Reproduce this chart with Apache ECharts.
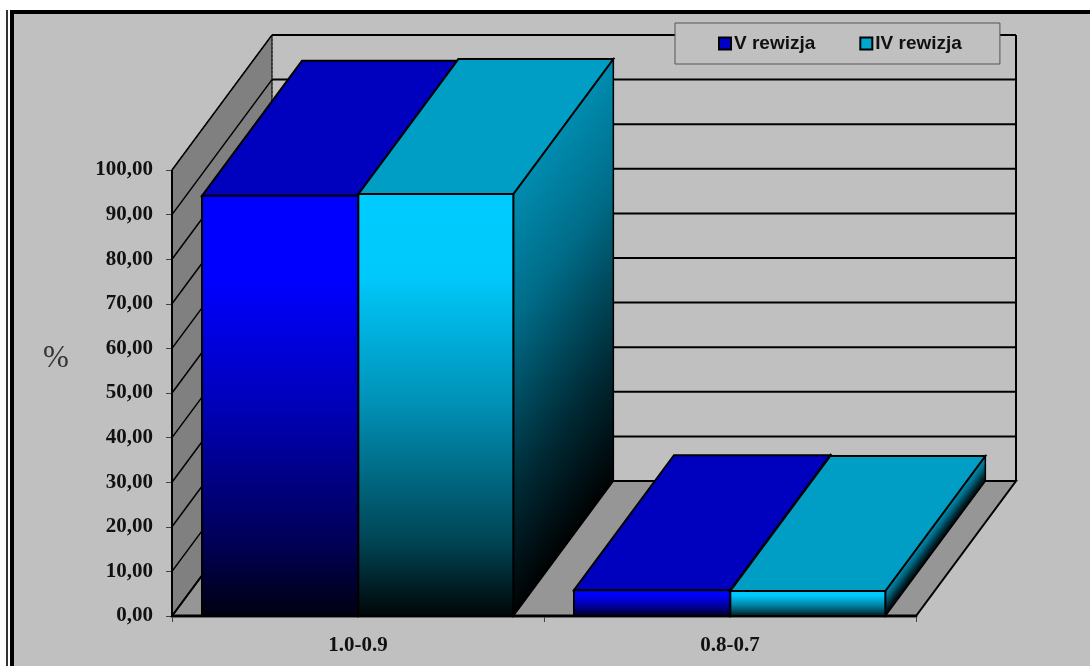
<!DOCTYPE html>
<html>
<head>
<meta charset="utf-8">
<style>html,body{margin:0;padding:0;background:#fff}#c{width:1090px;height:666px}</style>
<script src="https://cdn.jsdelivr.net/npm/echarts@6/dist/echarts.min.js"></script>
</head>
<body>
<div id="c"></div>
<script>
var categories = ['1.0-0.9', '0.8-0.7'];
var seriesVName = 'V rewizja';
var seriesIVName = 'IV rewizja';
var valuesV = [94.2, 5.8];
var valuesIV = [94.6, 5.6];
var yTicks = [0,10,20,30,40,50,60,70,80,90,100];
var unitLabel = '%';

var DX = 100, DY = 135;
var G = echarts.graphic;
function lg(x, y, x2, y2, stops){
  return new G.LinearGradient(x,y,x2,y2,stops.map(function(s){return {offset:s[0],color:s[1]};}));
}
var palette = {
  V: {
    front: [[0,'#0000ff'],[0.2,'#0000ff'],[0.5,'#0000b8'],[0.82,'#000058'],[1,'#000010']],
    top: '#0000bf',
    side: [[0,'#0000a0'],[1,'#000010']],
    legend: '#0000c8'
  },
  IV: {
    front: [[0,'#00ccff'],[0.2,'#00c8fa'],[0.5,'#0090b5'],[0.82,'#004555'],[1,'#000506']],
    top: '#009dc4',
    side: [[0,'#008cb0'],[0.3,'#006c88'],[0.7,'#002a35'],[1,'#000000']],
    legend: '#00a8d0'
  }
};
function barRenderer(offsetFrac, widthFrac, pal){
  return function(params, api){
    var cat = api.value(0), val = api.value(1);
    var band = api.size([1,0])[0];
    var c0 = api.coord([cat, 0]);
    var c1 = api.coord([cat, val]);
    var x0 = c0[0] - band/2 + offsetFrac*band;
    var x1 = x0 + widthFrac*band;
    var yT = c1[1], yB = c0[1], h = yB - yT, H = h + DY;
    var front = [[x0,yT],[x1,yT],[x1,yB],[x0,yB]];
    var top = [[x0,yT],[x0+DX,yT-DY],[x1+DX,yT-DY],[x1,yT]];
    var side = [[x1,yT],[x1+DX,yT-DY],[x1+DX,yB-DY],[x1,yB]];
    var sideFill = lg(0, DY/H, 0.48*h/DX, (DY+0.36*h)/H, pal.side);
    var sw = {stroke:'#000',lineWidth:2,lineJoin:'miter'};
    return {type:'group',children:[
      {type:'polygon',shape:{points:side},style:Object.assign({fill:sideFill},sw,{lineWidth:1.5})},
      {type:'polygon',shape:{points:top},style:Object.assign({fill:pal.top},sw)},
      {type:'polygon',shape:{points:front},style:Object.assign({fill:lg(0,0,0,1,pal.front)},sw)}
    ]};
  };
}
function wallsRenderer(params, api){
  var a = api.coord([0,0]), band = api.size([1,0])[0];
  var xL = a[0]-band/2, yB = a[1];
  var xR = xL + band*categories.length;
  var yT = api.coord([0,yTicks[yTicks.length-1]])[1];
  return {type:'group',children:[
    {type:'polygon',shape:{points:[[xL,yT],[xL+DX,yT-DY],[xL+DX,yB-DY],[xL,yB]]},style:{fill:'#808080',stroke:'#000',lineWidth:1}},
    {type:'polygon',shape:{points:[[xL,yB],[xL+DX,yB-DY],[xR+DX,yB-DY],[xR,yB]]},style:{fill:'#969696',stroke:'#000',lineWidth:2}},
    {type:'line',shape:{x1:xL+DX,y1:yT-DY,x2:xL+DX,y2:yB-DY},style:{stroke:'#222',lineWidth:1,lineDash:[2,2]}},
    {type:'line',shape:{x1:xR+DX,y1:yT-DY,x2:xR+DX,y2:yB-DY},style:{stroke:'#000',lineWidth:2}},
    {type:'line',shape:{x1:xL,y1:yT,x2:xL,y2:yB},style:{stroke:'#000',lineWidth:2}},
    {type:'line',shape:{x1:xL,y1:yB-0.5,x2:xR,y2:yB-0.5},style:{stroke:'#000',lineWidth:2}}
  ]};
}
function gridRenderer(params, api){
  var v = api.value(0);
  var a = api.coord([0,v]), band = api.size([1,0])[0];
  var xL = a[0]-band/2, y = a[1];
  var xR = xL + band*categories.length;
  return {type:'group',children:[
    {type:'line',shape:{x1:xL,y1:y,x2:xL+DX,y2:y-DY},style:{stroke:'#000',lineWidth:1.5}},
    {type:'line',shape:{x1:xL+DX,y1:y-DY,x2:xR+DX,y2:y-DY},style:{stroke:'#000',lineWidth:2}}
  ]};
}
var labelFont = {fontFamily:'"Liberation Serif"',fontWeight:'bold',fontSize:21,color:'#111'};
var option = {
  animation:false,
  backgroundColor:'#fff',
  graphic:{elements:[
    {type:'rect',z:-100,silent:true,shape:{x:12,y:12,width:1078,height:654},style:{fill:'#c0c0c0',stroke:null}},
    {type:'rect',z:-99,silent:true,shape:{x:10,y:10,width:1080,height:4},style:{fill:'#000'}},
    {type:'rect',z:-99,silent:true,shape:{x:10,y:10,width:4,height:656},style:{fill:'#000'}},
    {type:'rect',z:-99,silent:true,shape:{x:6,y:10,width:2,height:656},style:{fill:'#333'}},
    {type:'text',z:5,silent:true,style:{x:56,y:359,text:unitLabel,align:'center',verticalAlign:'middle',fontFamily:'"Liberation Serif"',fontSize:31,fill:'#333'}}
  ]},
  grid:{left:172,right:174,top:170,bottom:50},
  legend:{
    left:675,top:23,orient:'horizontal',
    padding:[11,38,11,43],
    itemGap:44,itemWidth:12,itemHeight:12,
    backgroundColor:'#c0c0c0',borderColor:'#555',borderWidth:1,
    textStyle:{fontFamily:'"Liberation Sans"',fontWeight:'bold',fontSize:19,color:'#111',padding:[3,0,0,-2]},
    data:[
      {name:seriesVName,icon:'rect',itemStyle:{color:palette.V.legend,borderColor:'#000',borderWidth:2}},
      {name:seriesIVName,icon:'rect',itemStyle:{color:palette.IV.legend,borderColor:'#000',borderWidth:2}}
    ]
  },
  xAxis:{
    type:'category',data:categories,boundaryGap:true,
    axisLine:{show:true,lineStyle:{color:'#6a6a6a',width:3}},
    axisTick:{show:true,alignWithLabel:false,length:6,lineStyle:{color:'#444',width:1}},
    axisLabel:Object.assign({margin:19},labelFont)
  },
  yAxis:{
    type:'value',min:0,max:100,interval:10,
    axisLine:{show:false},
    axisTick:{show:true,length:6,lineStyle:{color:'#444',width:1}},
    axisLabel:Object.assign({margin:19,padding:[4,0,0,0],formatter:function(v){return v.toFixed(2).replace('.',',');}},labelFont),
    splitLine:{show:false}
  },
  series:[
    {type:'custom',name:'walls',z:1,silent:true,data:[[0]],encode:{x:0},renderItem:wallsRenderer,legendHoverLink:false},
    {type:'custom',name:'gridlines',z:1,silent:true,data:yTicks.map(function(v){return [v];}),encode:{y:0},renderItem:gridRenderer},
    {type:'custom',name:seriesVName,z:2,data:valuesV.map(function(v,i){return [i,v];}),encode:{x:0,y:1},renderItem:barRenderer(0.0806,0.4203,palette.V),itemStyle:{color:palette.V.legend}},
    {type:'custom',name:seriesIVName,z:3,data:valuesIV.map(function(v,i){return [i,v];}),encode:{x:0,y:1},renderItem:barRenderer(0.5009,0.4167,palette.IV),itemStyle:{color:palette.IV.legend}}
  ]
};
var chart = echarts.init(document.getElementById('c'),null,{renderer:'canvas'});
chart.setOption(option);
</script>
</body>
</html>
